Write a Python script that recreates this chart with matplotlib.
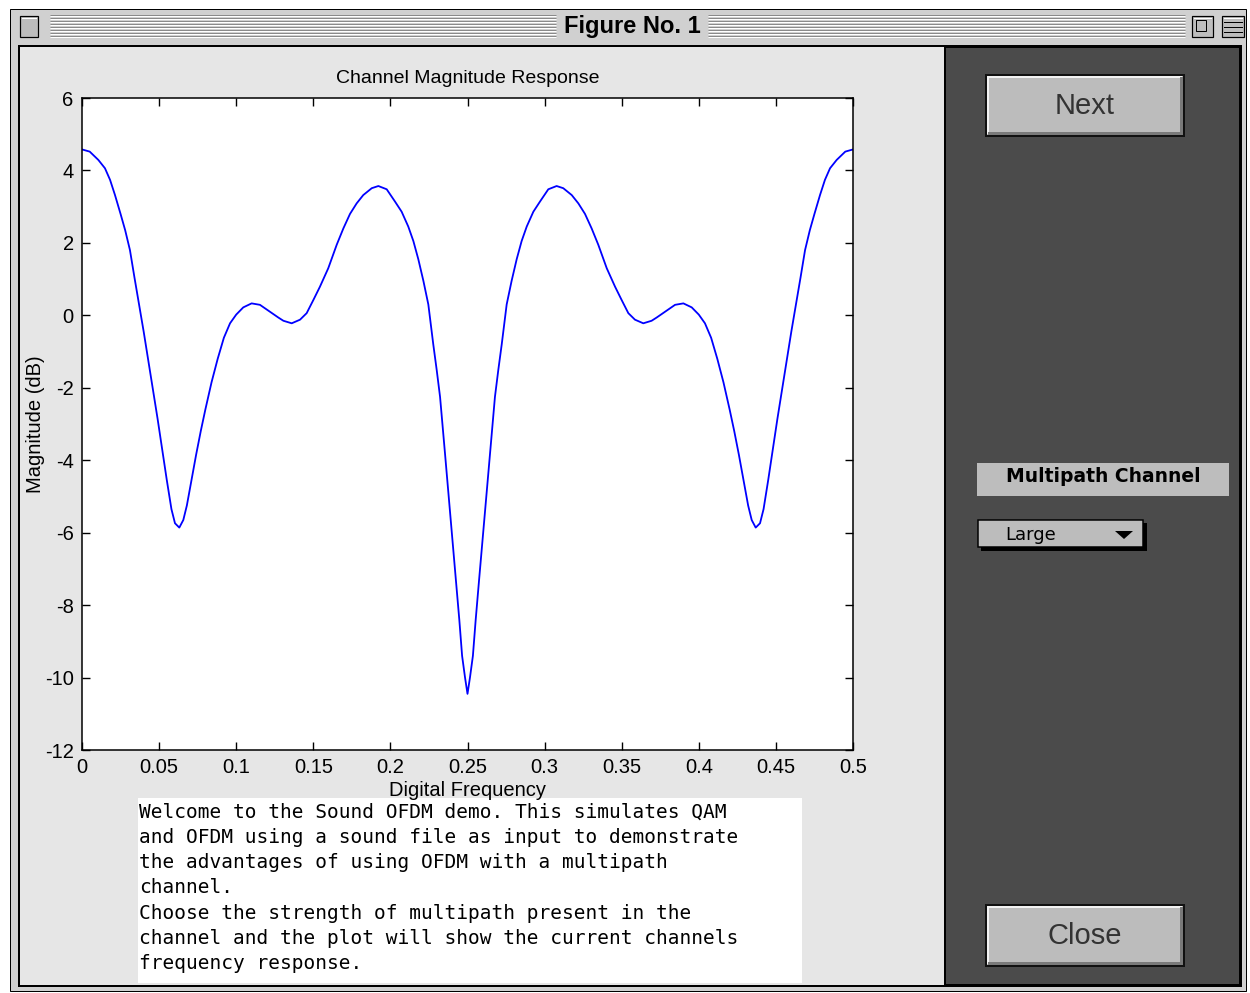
import numpy as np
import matplotlib
matplotlib.use("Agg")
import matplotlib.pyplot as plt
import matplotlib.font_manager as fm
from matplotlib.patches import Rectangle, Polygon

plt.rcParams['axes.unicode_minus'] = False

# channel magnitude response
freq = [0.0000, 0.0050, 0.0106, 0.0149, 0.0182, 0.0214, 0.0250, 0.0280, 0.0311, 0.0340,
        0.0370, 0.0400, 0.0430, 0.0460, 0.0490, 0.0520, 0.0550, 0.0580, 0.0603, 0.0631,
        0.0657, 0.0680, 0.0710, 0.0740, 0.0770, 0.0800, 0.0840, 0.0880, 0.0920, 0.0960,
        0.1000, 0.1046, 0.1100, 0.1154, 0.1219, 0.1273, 0.1306, 0.1360, 0.1414, 0.1457,
        0.1500, 0.1543, 0.1597, 0.1652, 0.1695, 0.1738, 0.1781, 0.1824, 0.1879, 0.1922,
        0.1976, 0.2030, 0.2073, 0.2116, 0.2149, 0.2181, 0.2214, 0.2246, 0.2278, 0.2300,
        0.2322, 0.2354, 0.2391, 0.2425, 0.2447, 0.2465, 0.2484, 0.2500,
        0.2516, 0.2535, 0.2553, 0.2575, 0.2609, 0.2646, 0.2678, 0.2700, 0.2722, 0.2754,
        0.2786, 0.2819, 0.2851, 0.2884, 0.2927, 0.2970, 0.3024, 0.3078, 0.3121, 0.3176,
        0.3219, 0.3262, 0.3305, 0.3348, 0.3403, 0.3457, 0.3500, 0.3543, 0.3586, 0.3640,
        0.3694, 0.3727, 0.3781, 0.3846, 0.3900, 0.3954, 0.4000, 0.4040, 0.4080, 0.4120,
        0.4160, 0.4200, 0.4230, 0.4260, 0.4290, 0.4320, 0.4343, 0.4369, 0.4397, 0.4420,
        0.4450, 0.4480, 0.4510, 0.4540, 0.4570, 0.4600, 0.4630, 0.4660, 0.4689, 0.4720,
        0.4750, 0.4786, 0.4818, 0.4851, 0.4894, 0.4950, 0.5000]
mag_db = [4.58, 4.52, 4.29, 4.06, 3.74, 3.32, 2.80, 2.35, 1.80, 1.05,
          0.30, -0.45, -1.25, -2.05, -2.85, -3.70, -4.55, -5.35, -5.74, -5.86,
          -5.65, -5.25, -4.55, -3.85, -3.20, -2.60, -1.85, -1.20, -0.62, -0.22,
          0.02, 0.22, 0.33, 0.29, 0.10, -0.06, -0.15, -0.22, -0.12, 0.06,
          0.42, 0.79, 1.30, 1.95, 2.40, 2.80, 3.09, 3.32, 3.51, 3.57,
          3.48, 3.14, 2.86, 2.45, 2.05, 1.55, 0.95, 0.30, -0.80, -1.50,
          -2.25, -3.81, -5.65, -7.31, -8.41, -9.40, -10.00, -10.45,
          -10.00, -9.40, -8.41, -7.31, -5.65, -3.81, -2.25, -1.50, -0.80, 0.30,
          0.95, 1.55, 2.05, 2.45, 2.86, 3.14, 3.48, 3.57, 3.51, 3.32,
          3.09, 2.80, 2.40, 1.95, 1.30, 0.79, 0.42, 0.06, -0.12, -0.22,
          -0.15, -0.06, 0.10, 0.29, 0.33, 0.22, 0.02, -0.22, -0.62, -1.20,
          -1.85, -2.60, -3.20, -3.85, -4.55, -5.25, -5.65, -5.86, -5.74, -5.35,
          -4.55, -3.70, -2.85, -2.05, -1.25, -0.45, 0.30, 1.05, 1.80, 2.35,
          2.80, 3.32, 3.74, 4.06, 4.29, 4.52, 4.58]

x_ticks = [0, 0.05, 0.1, 0.15, 0.2, 0.25, 0.3, 0.35, 0.4, 0.45, 0.5]
x_tick_labels = ['0', '0.05', '0.1', '0.15', '0.2', '0.25', '0.3', '0.35', '0.4', '0.45', '0.5']
y_ticks = [-12, -10, -8, -6, -4, -2, 0, 2, 4, 6]

info_lines = [
    "Welcome to the Sound OFDM demo. This simulates QAM",
    "and OFDM using a sound file as input to demonstrate",
    "the advantages of using OFDM with a multipath",
    "channel.",
    "Choose the strength of multipath present in the",
    "channel and the plot will show the current channels",
    "frequency response.",
]

names = {f.name for f in fm.fontManager.ttflist}
if 'Liberation Sans Narrow' in names:
    narrow, nsize = 'Liberation Sans Narrow', 16.5
else:
    narrow, nsize = 'Liberation Sans', 14.5
sans = 'Liberation Sans'

W, H = 1250, 993
fig = plt.figure(figsize=(W / 100, H / 100), dpi=100, facecolor='white')

# window chrome, drawn in pixel coordinates
bg = fig.add_axes([0, 0, 1, 1], zorder=0)
bg.set_xlim(0, W)
bg.set_ylim(H, 0)
bg.axis('off')

px = 0.72  # one pixel in points
bg.add_patch(Rectangle((10, 9), 1236, 982, fc='#d0d0d0', ec='black', lw=px))
# title bar stripes
for k in range(8):
    yy = 15 + 3 * k
    for x0, x1 in [(50, 556), (708, 1185)]:
        bg.plot([x0, x1], [yy, yy], color='#8a8a8a', lw=px, solid_capstyle='butt')
        bg.plot([x0, x1], [yy + 1, yy + 1], color='white', lw=px, solid_capstyle='butt')
bg.text(632, 27, 'Figure No. 1', ha='center', va='center', fontsize=17,
        fontweight='bold', family=narrow, color='black')
# title bar boxes
for x0, w in [(20, 18), (1192, 21), (1222, 22)]:
    bg.add_patch(Rectangle((x0, 16), w, 21, fc='#bdbdbd', ec='black', lw=1.2 * px))
    bg.plot([x0 + 2, x0 + w - 2], [18, 18], color='white', lw=px)
bg.add_patch(Rectangle((1196, 20), 10, 11, fc='none', ec='black', lw=px))
for yy in (22, 27, 32):
    bg.plot([1224, 1242], [yy, yy], color='black', lw=px)

# content area
bg.add_patch(Rectangle((19, 46), 1222, 940, fc='#e6e6e6', ec='black', lw=2 * px))
bg.add_patch(Rectangle((945, 47), 295, 938, fc='#4b4b4b', ec='black', lw=2 * px))


def bevel_button(x, y, w, h, label):
    bg.add_patch(Rectangle((x, y), w, h, fc='#bcbcbc', ec='#111111', lw=2 * px))
    bg.plot([x + 2, x + w - 3], [y + 2, y + 2], color='#f2f2f2', lw=2 * px)
    bg.plot([x + 2, x + 2], [y + 2, y + h - 3], color='#f2f2f2', lw=2 * px)
    bg.plot([x + 3, x + w - 3], [y + h - 3, y + h - 3], color='#7a7a7a', lw=3 * px)
    bg.plot([x + w - 3, x + w - 3], [y + 3, y + h - 3], color='#7a7a7a', lw=3 * px)
    bg.text(x + w / 2, y + h / 2, label, ha='center', va='center', fontsize=21,
            family=sans, color='#333333')


bevel_button(986, 75, 198, 61, 'Next')
bevel_button(986, 905, 198, 61, 'Close')

bg.add_patch(Rectangle((977, 463), 252, 33, fc='#bdbdbd', ec='none'))
bg.text(1103, 477, 'Multipath Channel', ha='center', va='center', fontsize=13.5,
        fontweight='bold', family='DejaVu Sans', color='black')

# popup menu
bg.add_patch(Rectangle((981, 523), 166, 28, fc='black', ec='none'))
bg.add_patch(Rectangle((978, 520), 165, 27, fc='#bcbcbc', ec='black', lw=1.5 * px))
bg.text(1005, 535, 'Large', ha='left', va='center', fontsize=13, family='DejaVu Sans',
        color='black')
bg.add_patch(Polygon([[1115, 531], [1133, 531], [1124, 539]], closed=True, fc='black', ec='none'))

# info text box
bg.add_patch(Rectangle((138, 798), 664, 185, fc='white', ec='none'))
for i, line in enumerate(info_lines):
    bg.text(139, 812 + 25.3 * i, line, ha='left', va='center', fontsize=14,
            family='DejaVu Sans Mono', color='black')

# the plot itself
ax = fig.add_axes([82 / W, 1 - 750 / H, 771 / W, 652 / H], zorder=2)
ax.set_facecolor('white')
ax.plot(freq, mag_db, color='blue', lw=1.3)
ax.set_xlim(0, 0.5)
ax.set_ylim(-12, 6)
ax.set_xticks(x_ticks)
ax.set_xticklabels(x_tick_labels)
ax.set_yticks(y_ticks)
ax.tick_params(direction='in', length=6, width=1, top=True, right=True,
               labelsize=nsize, pad=6)
for lab in ax.get_xticklabels() + ax.get_yticklabels():
    lab.set_family(narrow)
for sp in ax.spines.values():
    sp.set_linewidth(1.1)
ax.set_title('Channel Magnitude Response', fontsize=14, family=sans, pad=11)
ax.set_xlabel('Digital Frequency', fontsize=nsize, family=narrow, labelpad=3)
ax.set_ylabel('Magnitude (dB)', fontsize=nsize, family=narrow, labelpad=0)

fig.savefig('out.png', dpi=100, facecolor='white')
